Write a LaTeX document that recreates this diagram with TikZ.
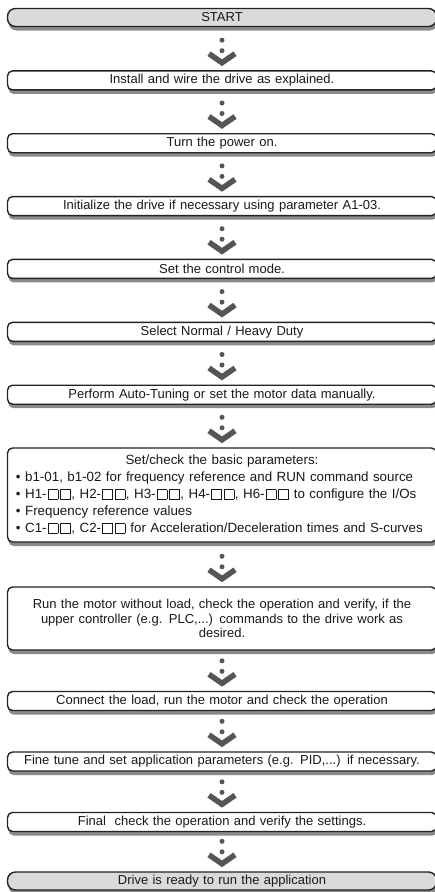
\documentclass[tikz,border=0pt]{standalone}
\usepackage{fontspec}
\setmainfont{Liberation Sans}
\usetikzlibrary{positioning,shadows}
\definecolor{framecol}{RGB}{35,35,35}
\definecolor{shadowcol}{RGB}{138,138,138}
\definecolor{endfill}{RGB}{218,218,218}
\definecolor{arrowcol}{RGB}{85,85,85}
\definecolor{textcol}{RGB}{25,25,25}
\newcommand{\sqbox}{\kern0.1em{\fboxsep=0pt\fboxrule=0.6pt\fbox{\rule{0pt}{0.68em}\hspace{0.68em}}}\kern0.06em}
\tikzset{
  stepnode/.style={
    rectangle, draw=framecol, line width=1.4pt, fill=white, rounded corners=5pt,
    minimum width=429pt, text width=421pt, align=center,
    inner xsep=4pt, inner ysep=0pt, minimum height=19pt, text=textcol,
    font=\fontsize{13}{17}\selectfont,
    drop shadow={shadow xshift=1pt, shadow yshift=-4pt, fill=shadowcol, opacity=1}
  },
  endnode/.style={stepnode, fill=endfill, rounded corners=8pt, minimum height=18pt},
  listnode/.style={stepnode, align=left, text width=412pt, inner xsep=8.5pt,
    font=\fontsize{13.35}{17}\selectfont},
  dotarrow/.pic={
    \fill[arrowcol] (0,-30) circle (2.5pt) (0,-19.5) circle (2.5pt);
    \draw[arrowcol, line width=5.5pt] (-13,-16.5) -- (0,-7.5) -- (13,-16.5);
  },
}

\begin{document}
\begin{tikzpicture}[x=1pt, y=-1pt]

  \useasboundingbox (0,0) rectangle (434,892);

  % ── Steps ──
  \node[endnode]  (start)   at (222,17.5)  {START};
  \node[stepnode] (install) at (222,80.4)  {Install and wire the drive as explained.};
  \node[stepnode] (power)   at (222,143.2) {Turn the power on.};
  \node[stepnode] (init)    at (222,206.1) {Initialize the drive if necessary using parameter A1-03.};
  \node[stepnode] (ctrl)    at (222,268.9) {Set the control mode.};
  \node[stepnode] (duty)    at (222,331.8) {Select Normal / Heavy Duty};
  \node[stepnode] (tune)    at (222,394.7) {Perform Auto-Tuning or set the motor data manually.};
  \node[listnode, minimum height=94pt] (basic) at (222,495)
    {\makebox[\hsize]{Set/check the basic parameters:}\\
     • b1-01, b1-02 for frequency reference and RUN command source\\
     • H1-\sqbox\sqbox, H2-\sqbox\sqbox, H3-\sqbox\sqbox, H4-\sqbox\sqbox, H6-\sqbox\sqbox{} to configure the I/Os\\
     • Frequency reference values\\
     • C1-\sqbox\sqbox, C2-\sqbox\sqbox{} for Acceleration/Deceleration times and S-curves};
  \node[stepnode, minimum height=63pt, font=\fontsize{13}{14.5}\selectfont] (noload) at (222,618.5)
    {Run the motor without load, check the operation and verify, if the\\
     upper controller (e.g. PLC,...) commands to the drive work as\\
     desired.};
  \node[stepnode] (load)    at (222,701)   {Connect the load, run the motor and check the operation};
  \node[stepnode] (fine)    at (222,761.5) {Fine tune and set application parameters (e.g. PID,...) if necessary.};
  \node[stepnode] (final)   at (222,822)   {Final~ check the operation and verify the settings.};
  \node[endnode]  (ready)   at (222,881)   {Drive is ready to run the application};

  % ── Arrows ──
  \foreach \b in {install,power,init,ctrl,duty,tune,basic,noload,load,fine,final,ready}
    \pic at (\b.north) {dotarrow};

\end{tikzpicture}
\end{document}
